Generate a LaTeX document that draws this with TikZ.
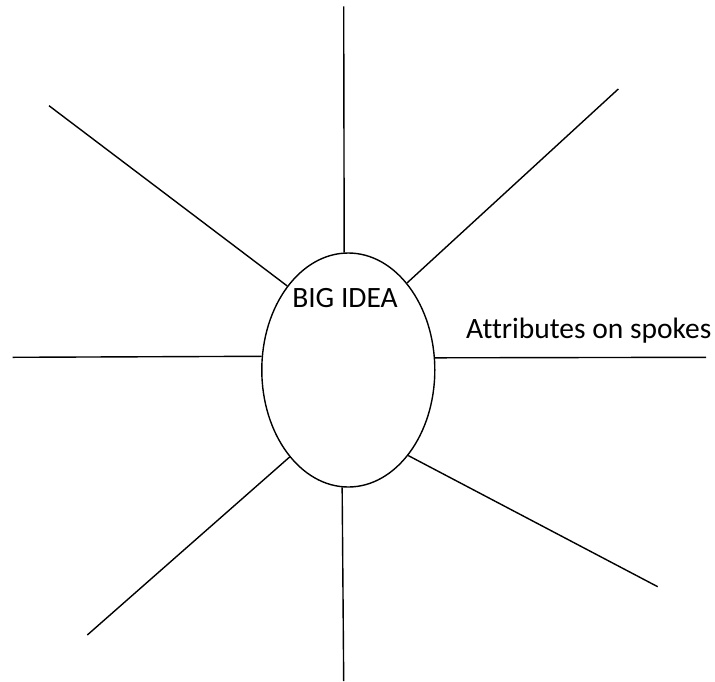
\documentclass[tikz,border=0pt]{standalone}
\usepackage{fontspec}
\setmainfont{Carlito}[Ligatures=CommonOff]
\usetikzlibrary{shapes.geometric}

\tikzset{
  spoke/.style={draw, line width=1.4pt},
  bigoval/.style={ellipse, draw, line width=1.4pt, minimum width=173pt, minimum height=234pt, inner sep=0pt},
  words/.style={font=\fontsize{29.5}{32}\selectfont, inner sep=0pt}
}

\begin{document}
\begin{tikzpicture}[x=1pt, y=-1pt]
\useasboundingbox (0,0) rectangle (715,681);
\node[bigoval] (idea) at (348.3, 370) {};
\node[words, anchor=base] (bigidea) at (345, 307.5) {BIG IDEA};
\node[words, anchor=base west] (attr) at (466, 338) {Attributes on spokes};
% outer ends of the spokes
\coordinate (top) at (343.7, 6.3);
\coordinate (topright) at (618.3, 89);
\coordinate (right) at (706, 357.3);
\coordinate (botright) at (657.7, 586.7);
\coordinate (bot) at (343.7, 681);
\coordinate (botleft) at (87.3, 635);
\coordinate (left) at (12.7, 357.3);
\coordinate (topleft) at (49, 105.7);
\draw[spoke] (idea.92.1) -- (top);
\draw[spoke] (idea.56.3) -- (topright);
\draw[spoke] (idea.8.5) -- (right);
\draw[spoke] (idea.-55.5) -- (botright);
\draw[spoke] (idea.267.9) -- (bot);
\draw[spoke] (idea.236.8) -- (botleft);
\draw[spoke] (idea.171.5) -- (left);
\draw[spoke] (idea.126) -- (topleft);
\end{tikzpicture}
\end{document}
